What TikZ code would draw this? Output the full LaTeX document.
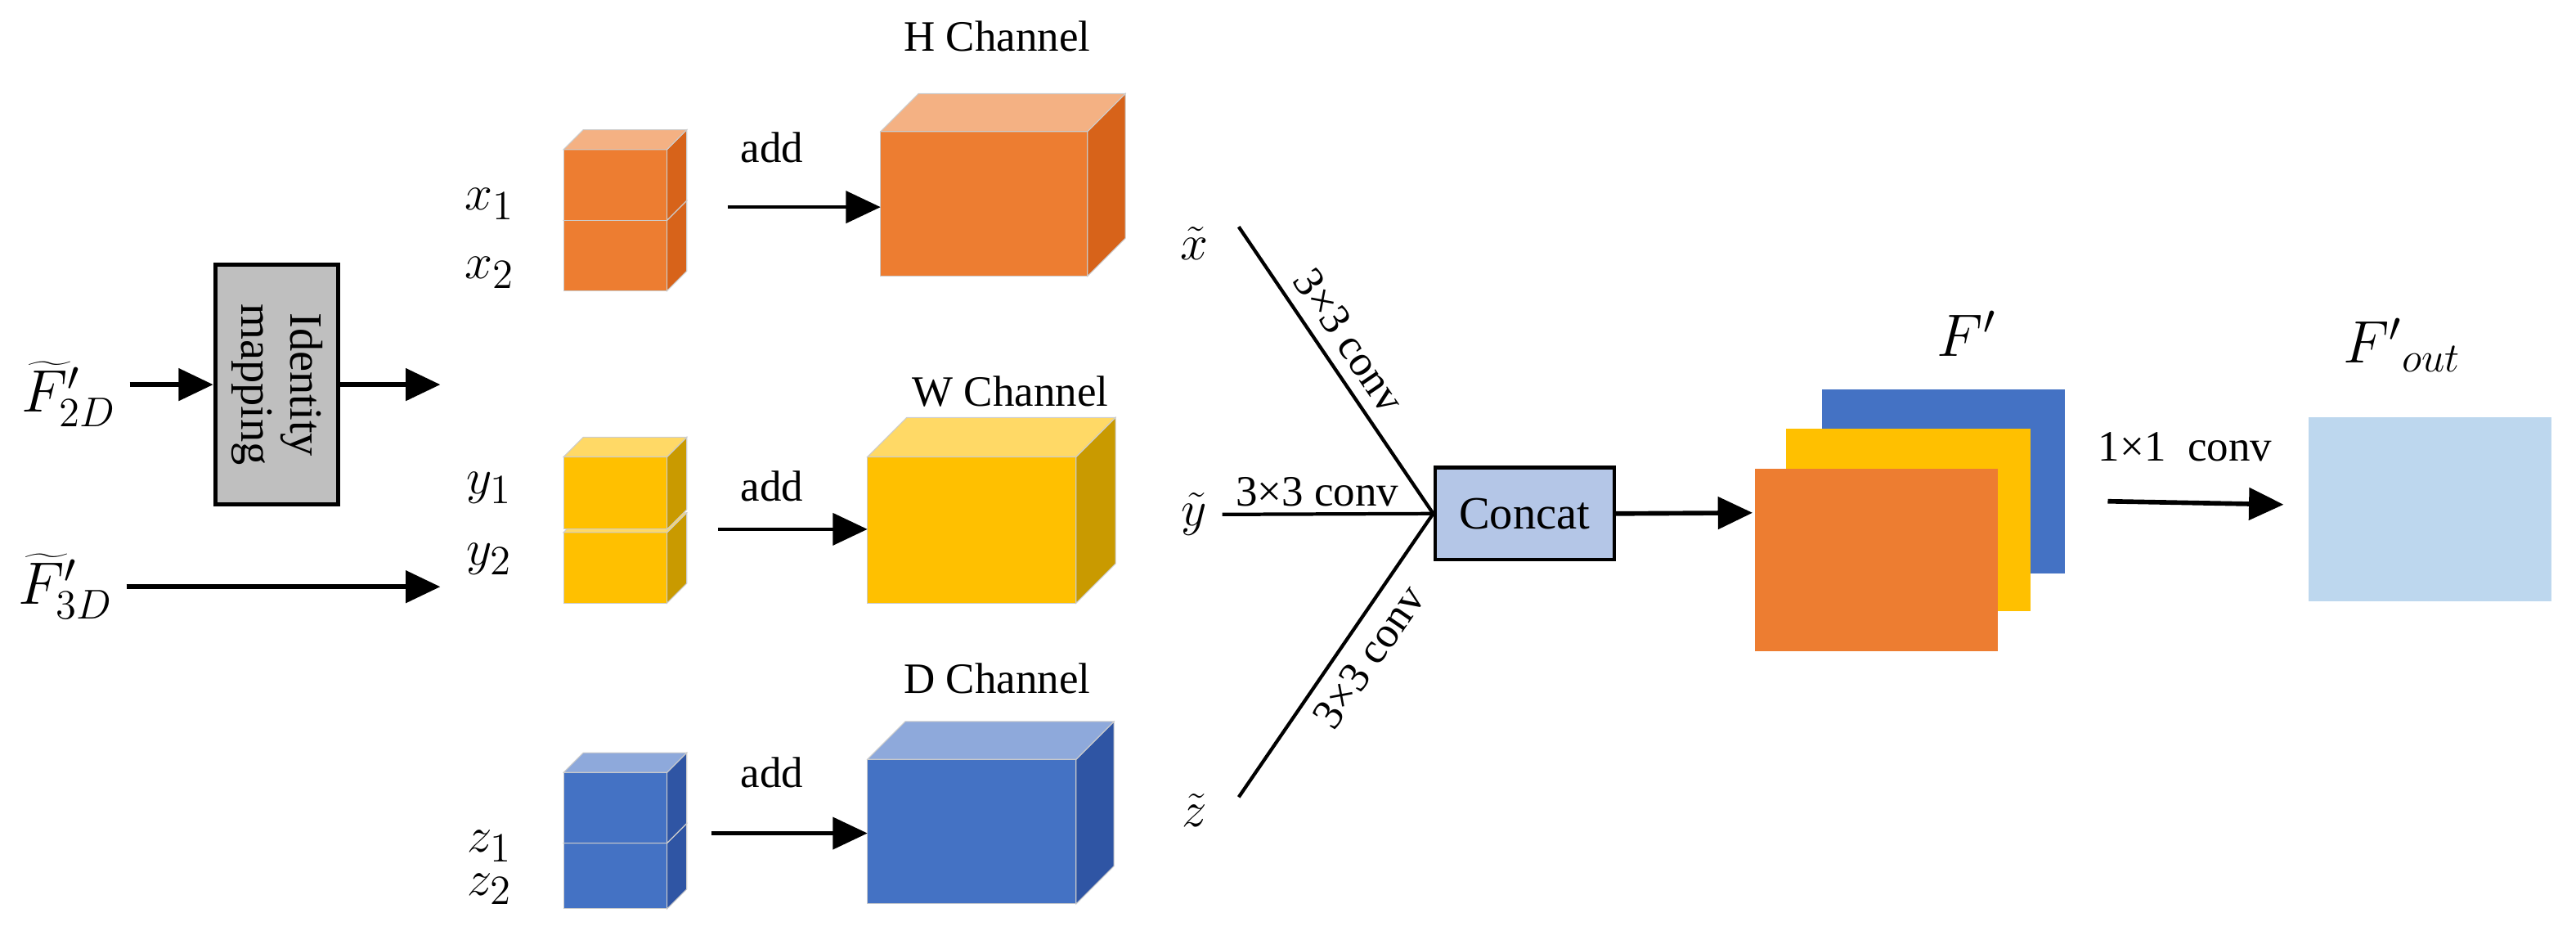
\documentclass[tikz,border=0pt]{standalone}
\usepackage{fontspec}
\setmainfont{Liberation Serif}
\usetikzlibrary{arrows.meta}
\definecolor{orF}{HTML}{ED7D31}\definecolor{orS}{HTML}{D7631A}\definecolor{orT}{HTML}{F4B183}
\definecolor{yeF}{HTML}{FFC000}\definecolor{yeS}{HTML}{C99A00}\definecolor{yeT}{HTML}{FFD966}
\definecolor{blF}{HTML}{4472C4}\definecolor{blS}{HTML}{2F55A4}\definecolor{blT}{HTML}{8EA9DB}
\definecolor{lbl}{HTML}{BDD7EE}\definecolor{cc}{HTML}{B4C6E7}
\newcommand\mycube[8]{% x y w h d front side top
  \fill[#6,draw=black!20,line width=0.3pt] (#1,#2) rectangle ++(#3,#4);
  \fill[#7,draw=black!20,line width=0.3pt] (#1+#3,#2) -- ++(#5,-#5) -- ++(0,#4) -- ++(-#5,#5) -- cycle;
  \fill[#8,draw=black!20,line width=0.3pt] (#1,#2) -- ++(#5,-#5) -- ++(#3,0) -- ++(-#5,#5) -- cycle;}
\begin{document}
\begin{tikzpicture}[x=0.2mm,y=-0.2mm,
  txt/.style={font=\fontsize{15}{18}\selectfont,inner sep=1pt},
  mth/.style={font=\fontsize{19}{22}\selectfont,inner sep=1pt},
  arr/.style={line width=1.6pt,-{Triangle[length=12pt,width=11pt]}},
  ln/.style={line width=1.2pt}]
\useasboundingbox (0,0) rectangle (1568,566);
% inputs
\node[mth,font=\fontsize{21}{24}\selectfont] (f2) at (42,240) {${\widetilde{F}'}_{2D}$};
\node[mth,font=\fontsize{21}{24}\selectfont] (f3) at (40,357) {${\widetilde{F}'}_{3D}$};
\node[draw,line width=1.4pt,fill=black!25,minimum width=75*0.2mm,minimum height=146*0.2mm,inner sep=0] (id) at (168.5,234) {};
\node[txt,rotate=-90,align=center,font=\fontsize{16}{17}\selectfont] at (id.center) {Identity\\mapping};
\coordinate (o1) at (268,234);
\coordinate (o2) at (268,357);
\draw[arr] (79,234) -- (id.west);
\draw[arr] (id.east) -- (o1);
\draw[arr] (77,357) -- (o2);
% small cubes
\mycube{343}{134}{63}{43}{12}{orF}{orS}{orT}
\mycube{343}{91}{63}{43}{12}{orF}{orS}{orT}
\mycube{343}{324}{63}{43}{12}{yeF}{yeS}{yeT}
\mycube{343}{278}{63}{44}{12}{yeF}{yeS}{yeT}
\mycube{343}{513}{63}{40}{12}{blF}{blS}{blT}
\mycube{343}{470}{63}{43}{12}{blF}{blS}{blT}
\node[mth] (x1) at (298,124) {$x_1$};
\node[mth] (x2) at (298,166) {$x_2$};
\node[mth] (y1) at (298,297) {$y_1$};
\node[mth] (y2) at (298,340) {$y_2$};
\node[mth] (z1) at (298,515) {$z_1$};
\node[mth] (z2) at (298,541) {$z_2$};
% big cubes
\mycube{536}{80}{126}{88}{23}{orF}{orS}{orT}
\mycube{528}{278}{127}{89}{24}{yeF}{yeS}{yeT}
\mycube{528}{462}{127}{88}{23}{blF}{blS}{blT}
\node[txt] (hc) at (607,22) {H Channel};
\node[txt] (wc) at (615,238) {W Channel};
\node[txt] (dc) at (607,413) {D Channel};
\coordinate (a1s) at (443,126); \coordinate (a1e) at (536,126);
\coordinate (a2s) at (437,322); \coordinate (a2e) at (528,322);
\coordinate (a3s) at (433,507); \coordinate (a3e) at (528,507);
\draw[arr,line width=1.3pt] (a1s) -- (a1e);
\draw[arr,line width=1.3pt] (a2s) -- (a2e);
\draw[arr,line width=1.3pt] (a3s) -- (a3e);
\node[txt] at (470,90) {add};
\node[txt] at (470,296) {add};
\node[txt] at (470,470) {add};
% tilde labels and convs
\node[mth] (xt) at (727,148) {$\tilde{x}$};
\node[mth] (yt) at (727,313) {$\tilde{y}$};
\node[mth] (zt) at (727,493) {$\tilde{z}$};
\node[draw,line width=1.3pt,fill=cc,minimum width=109*0.2mm,minimum height=56*0.2mm,inner sep=0,font=\fontsize{16}{18}\selectfont] (cat) at (928,312.5) {Concat};
\coordinate (u) at (754,138);
\coordinate (l) at (754,485);
\draw[ln] (u) -- node[txt,above=3pt,sloped,pos=0.45] {3×3 conv} (cat.west);
\draw[ln] (l) -- node[txt,below=3pt,sloped,pos=0.55] {3×3 conv} (cat.west);
\draw[ln] (744,313) -- node[txt,above=1pt,pos=0.45] {3×3 conv} (cat.west);
% F' sheets
\fill[blF] (1109,237) rectangle (1257,349);
\fill[yeF] (1087,261) rectangle (1236,372);
\fill[orF] (1068,285) rectangle (1216,396);
\node[minimum width=1pt,inner sep=0] (fs) at (1068,312) {};
\draw[arr] (cat.east) -- (fs);
\node[mth,font=\fontsize{22}{24}\selectfont] (fp) at (1197,203) {$F'$};
\node[mth,font=\fontsize{22}{24}\selectfont] (fo) at (1462,210) {${F'}_{out}$};
\fill[lbl] (1405,254) rectangle (1553,366);
\coordinate (b1) at (1283,305); \coordinate (b2) at (1390,307);
\draw[arr] (b1) -- (b2);
\node[txt] at (1330,272) {1×1\ \ conv};
\end{tikzpicture}
\end{document}
